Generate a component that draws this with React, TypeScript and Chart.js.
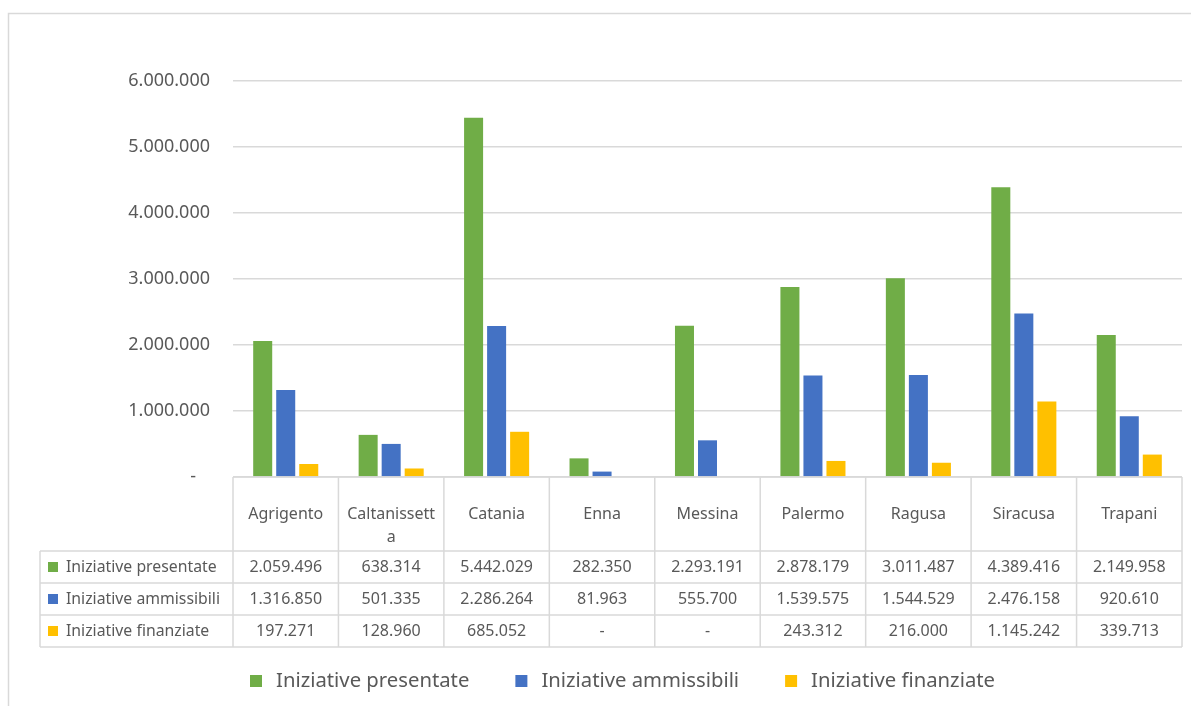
import React, { useEffect, useRef } from 'react';
import { Chart, registerables } from 'chart.js';
Chart.register(...registerables);

const categories = ['Agrigento', 'Caltanissetta', 'Catania', 'Enna', 'Messina', 'Palermo', 'Ragusa', 'Siracusa', 'Trapani'];
const headerLabels = [['Agrigento'], ['Caltanissett', 'a'], ['Catania'], ['Enna'], ['Messina'], ['Palermo'], ['Ragusa'], ['Siracusa'], ['Trapani']];
const presentate = [2059496, 638314, 5442029, 282350, 2293191, 2878179, 3011487, 4389416, 2149958];
const ammissibili = [1316850, 501335, 2286264, 81963, 555700, 1539575, 1544529, 2476158, 920610];
const finanziate = [197271, 128960, 685052, null, null, 243312, 216000, 1145242, 339713];
const seriesNames = ['Iniziative presentate', 'Iniziative ammissibili', 'Iniziative finanziate'];
const seriesColors = ['#70AD47', '#4472C4', '#FFC000'];
const yMax = 6000000;
const yStep = 1000000;

const TEXT = '#595959';
const LINE = '#D9D9D9';
const FONT = '"Noto Sans", sans-serif';

const fmt = (v: number | null) =>
  v == null || v === 0 ? '-' : Math.round(v).toString().replace(/\B(?=(\d{3})+(?!\d))/g, '.');

const tablePlugin = {
  id: 'tablePlugin',
  afterDraw(chart: any) {
    const ctx = chart.ctx;
    const area = chart.chartArea;
    const n = categories.length;
    const colW = (area.right - area.left) / n;
    const top = area.bottom;
    const headBottom = top + 74;
    const rowH = 32;
    const labelLeft = 40;
    const allSeries = [presentate, ammissibili, finanziate];
    ctx.save();
    // frame
    ctx.strokeStyle = LINE;
    ctx.lineWidth = 1.5;
    ctx.beginPath();
    ctx.moveTo(8.5, chart.height);
    ctx.lineTo(8.5, 13.5);
    ctx.lineTo(chart.width, 13.5);
    ctx.stroke();
    // table lines
    ctx.beginPath();
    ctx.moveTo(area.left, top);
    ctx.lineTo(area.right, top);
    for (let r = 0; r <= 3; r++) {
      const y = headBottom + r * rowH;
      ctx.moveTo(labelLeft, y);
      ctx.lineTo(area.right, y);
    }
    ctx.moveTo(labelLeft, headBottom);
    ctx.lineTo(labelLeft, headBottom + 3 * rowH);
    for (let i = 0; i <= n; i++) {
      const x = area.left + i * colW;
      ctx.moveTo(x, top);
      ctx.lineTo(x, headBottom + 3 * rowH);
    }
    ctx.stroke();
    // header text
    ctx.fillStyle = TEXT;
    ctx.font = `16px ${FONT}`;
    ctx.textAlign = 'center';
    ctx.textBaseline = 'middle';
    headerLabels.forEach((lines, i) => {
      const cx = area.left + (i + 0.5) * colW;
      lines.forEach((t, j) => ctx.fillText(t, cx, top + 37 + j * 23));
    });
    // rows
    allSeries.forEach((arr, r) => {
      const cy = headBottom + r * rowH + rowH / 2;
      arr.forEach((v, i) => {
        const cx = area.left + (i + 0.5) * colW;
        ctx.fillText(fmt(v), cx, cy);
      });
      ctx.fillStyle = seriesColors[r];
      ctx.fillRect(48, cy - 5, 10, 10);
      ctx.fillStyle = TEXT;
      ctx.textAlign = 'left';
      ctx.font = `15.8px ${FONT}`;
      ctx.fillText(seriesNames[r], 66, cy);
      ctx.textAlign = 'center';
      ctx.font = `16px ${FONT}`;
    });
    // legend
    ctx.font = `20.3px ${FONT}`;
    ctx.textAlign = 'left';
    let x = 250;
    const ly = 681;
    seriesNames.forEach((name, r) => {
      ctx.fillStyle = seriesColors[r];
      ctx.fillRect(x, ly - 6, 12, 12);
      ctx.fillStyle = TEXT;
      ctx.fillText(name, x + 26, ly);
      x += 26 + ctx.measureText(name).width + 46;
    });
    ctx.restore();
  },
};

export default function App() {
  const ref = useRef<HTMLCanvasElement>(null);
  useEffect(() => {
    if (!ref.current) return;
    const chart = new Chart(ref.current, {
      type: 'bar',
      data: {
        labels: categories,
        datasets: [presentate, ammissibili, finanziate].map((d, i) => ({
          label: seriesNames[i],
          data: d,
          backgroundColor: seriesColors[i],
          borderWidth: 0,
          barPercentage: 0.826,
          categoryPercentage: 0.655,
        })),
      },
      options: {
        animation: false,
        responsive: true,
        maintainAspectRatio: false,
        layout: { padding: { left: 0, right: 9, top: 81, bottom: 229 } },
        plugins: { legend: { display: false }, tooltip: { enabled: false } },
        scales: {
          x: { display: false },
          y: {
            min: 0,
            max: yMax,
            afterFit: (s: any) => { s.width = 233; },
            border: { display: false },
            grid: { color: LINE, lineWidth: 1.5, drawTicks: false },
            ticks: {
              stepSize: yStep,
              padding: 23,
              color: TEXT,
              font: { family: FONT, size: 18 },
              callback: (v: any) => (v === 0 ? '-   ' : fmt(v)),
            },
          },
        },
      },
      plugins: [tablePlugin],
    });
    return () => chart.destroy();
  }, []);
  return (
    <div style={{ position: 'fixed', left: 0, top: 0, width: 1191, height: 706 }}>
      <canvas ref={ref} />
    </div>
  );
}
